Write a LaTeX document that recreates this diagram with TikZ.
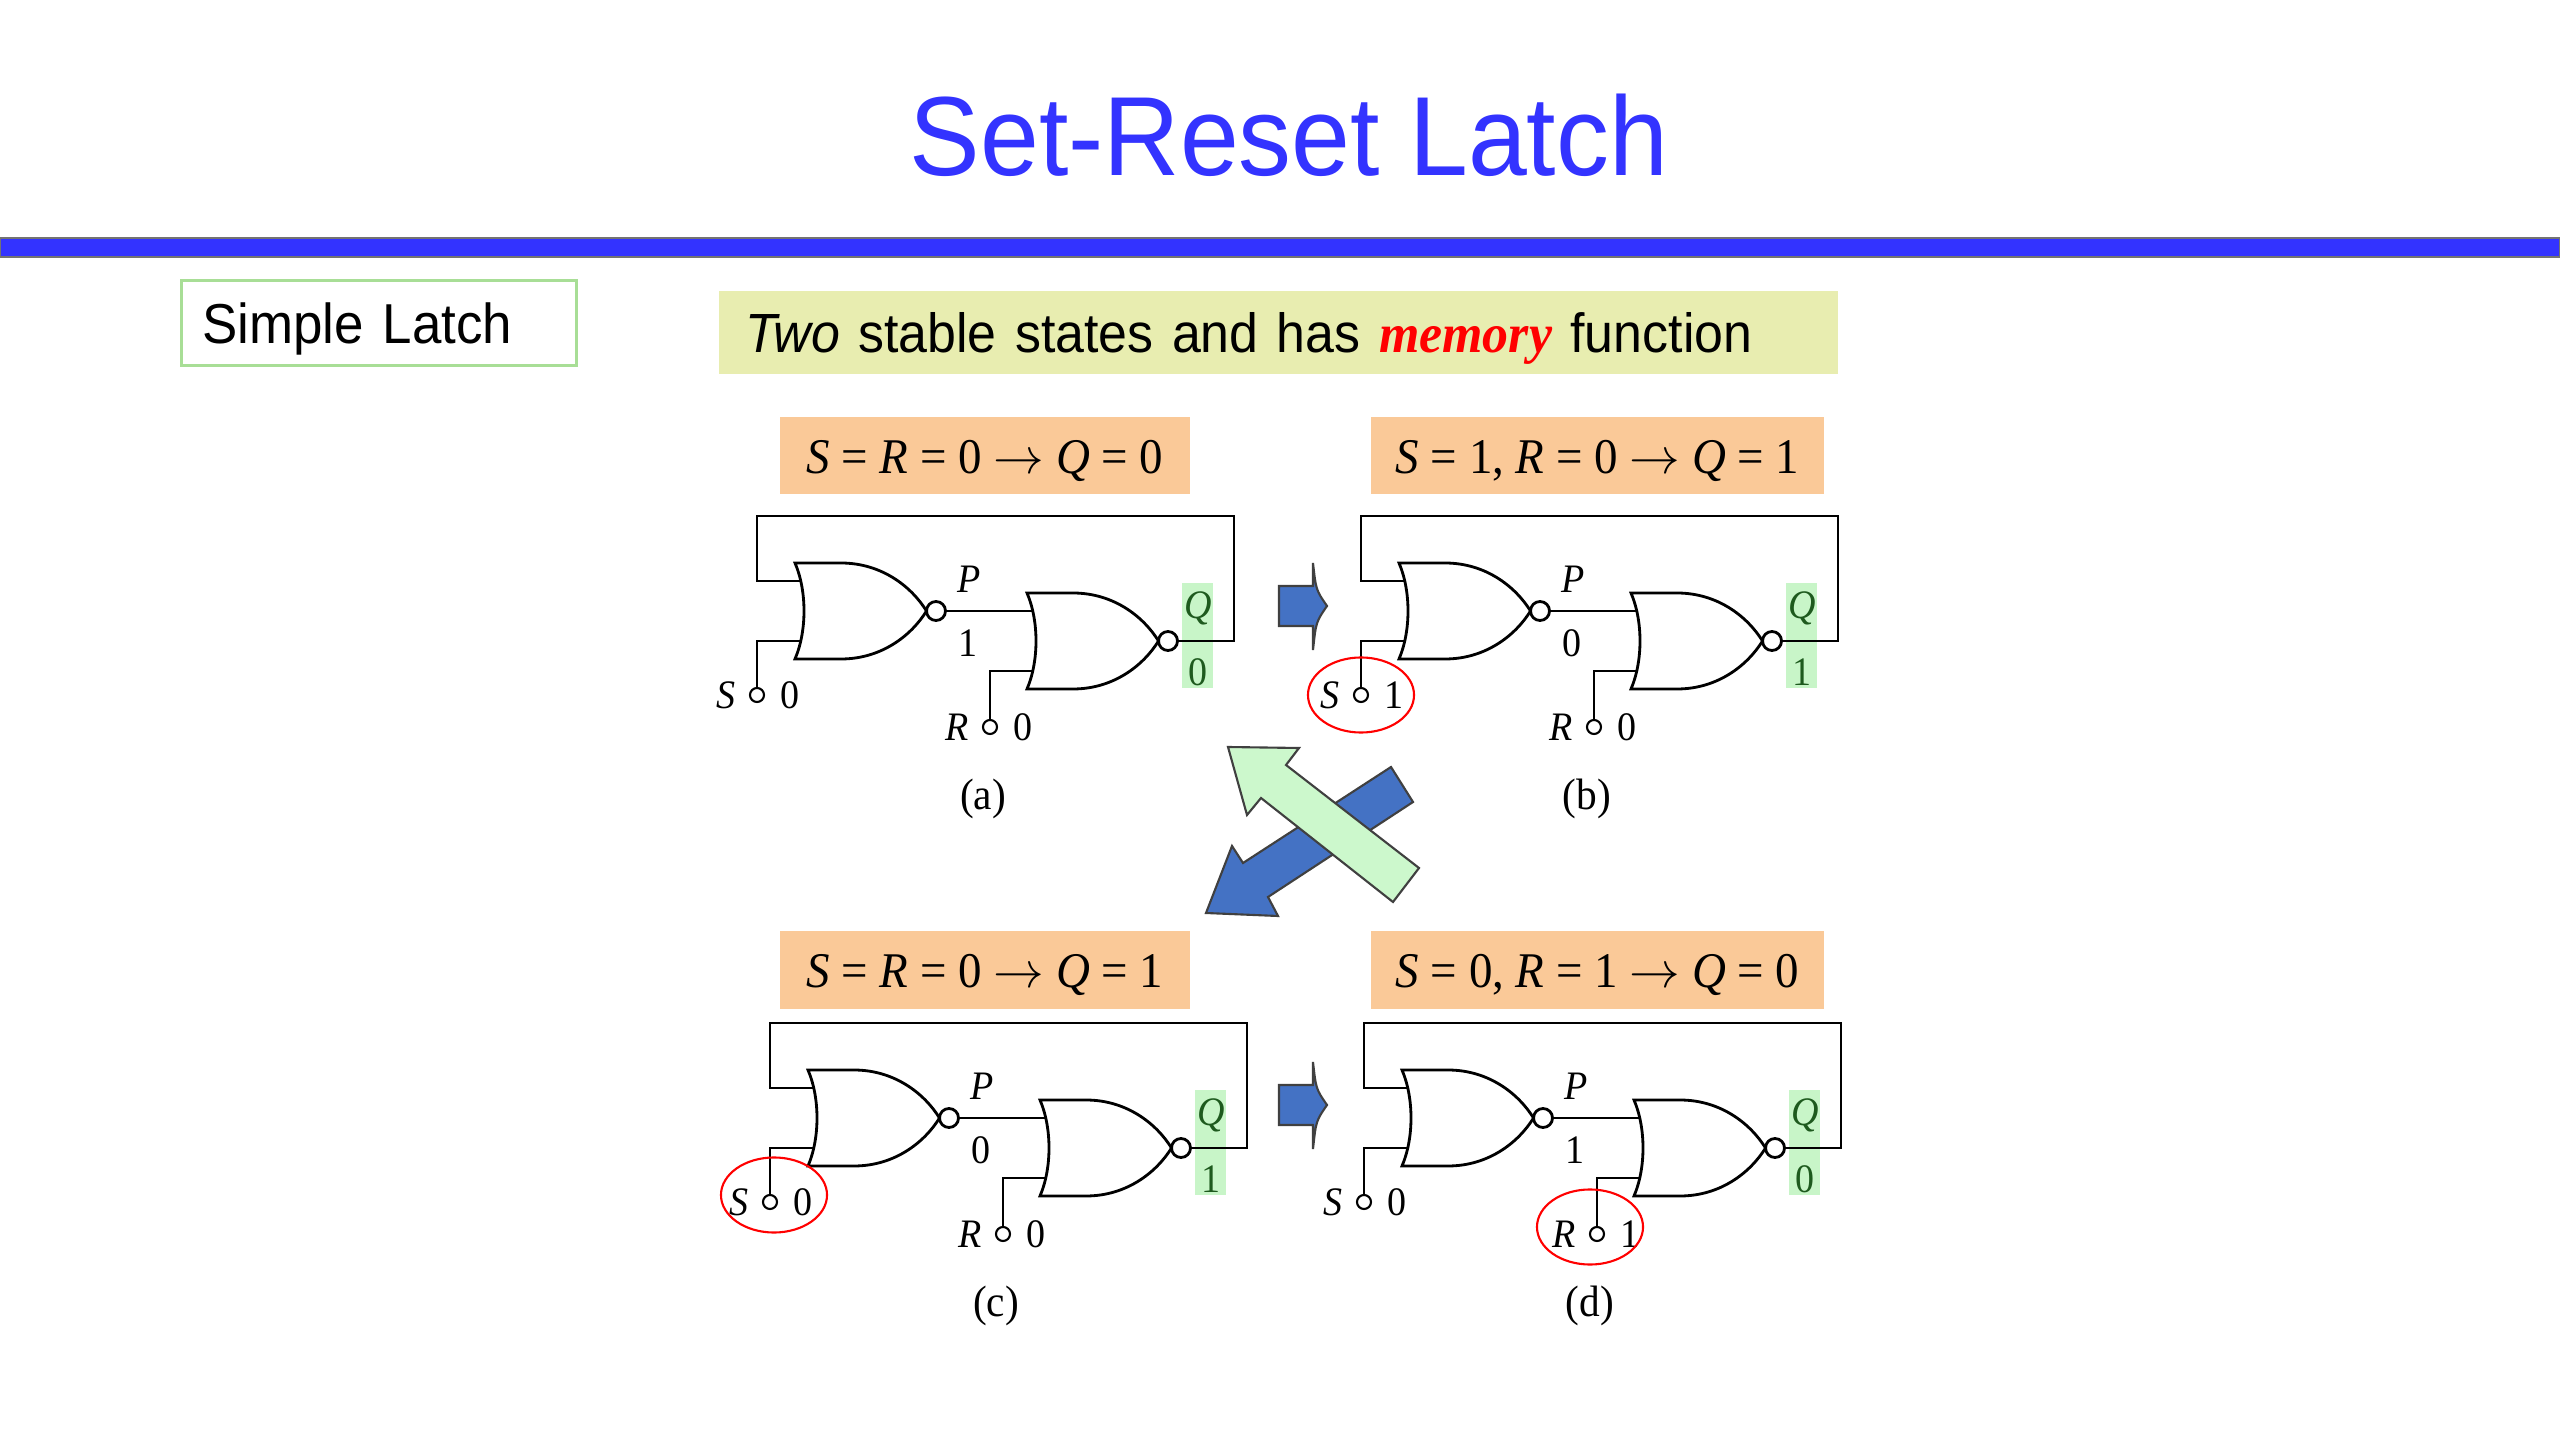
\documentclass[tikz,border=0pt]{standalone}
\usepackage{fontspec}
\setmainfont{Liberation Sans}[FakeStretch=0.94]
\newfontfamily\tmr{Liberation Serif}[FakeStretch=0.94]
\usepackage{xcolor}
\usetikzlibrary{positioning}
\usetikzlibrary{shapes.geometric}
\definecolor{titleblue}{RGB}{51,51,255}
\definecolor{boxorange}{RGB}{250,201,152}
\definecolor{boxyellow}{RGB}{232,237,176}
\definecolor{tagline}{RGB}{168,222,150}
\definecolor{qgreen}{RGB}{200,245,200}
\definecolor{qtext}{RGB}{30,90,30}
\definecolor{arrowblue}{RGB}{68,114,196}
\definecolor{arrowgreen}{RGB}{204,248,204}
\tikzset{
	norgate/.pic={
		\draw[line width=0.8pt] (-66,-48) -- (-20,-48) .. controls (20,-48) and (50,-25) .. (65.5,0) .. controls (50,25) and (20,48) .. (-20,48) -- (-66,48) .. controls (-54,20) and (-54,-20) .. (-66,-48) -- cycle;
		\draw[line width=0.8pt] (75,0) circle[radius=0.095cm];
		\coordinate (-in1) at (-60,-30);
		\coordinate (-in2) at (-60,30);
		\coordinate (-out) at (84.5,0);
	},
	terminal/.style={circle, draw, minimum size=0.14cm, inner sep=0pt, line width=0.6pt},
	wire/.style={line width=0.6pt},
	lbl/.style={font=\tmr\fontsize{11.5}{13}\selectfont, inner sep=0pt},
	caption/.style={font=\tmr\fontsize{12.5}{14}\selectfont, inner sep=0pt},
	formula/.style={fill=boxorange, minimum height=0.77cm, text height=0.35cm, text depth=0pt, font=\tmr\fontsize{14.2}{17}\selectfont},
	qmark/.style={fill=qgreen, minimum width=0.31cm, minimum height=1.05cm, inner sep=0pt},
	ring/.style={ellipse, draw=red, line width=0.6pt, minimum width=1.06cm, minimum height=0.75cm},
	bigarrow/.style={draw=black!75, line width=0.6pt}
}
\newcommand{\goes}{$\rightarrow$}
\begin{document}
\begin{tikzpicture}[x=0.01cm, y=-0.01cm]
	\useasboundingbox[fill=white] (0,0) rectangle (2560,1440);
	% heading
	\node[anchor=base, text=titleblue, font=\fontsize{32}{38}\selectfont, inner sep=0pt] (Title) at (1289,176) {Set-Reset Latch};
	\draw[fill=titleblue, draw=black!55, line width=0.5pt] (0,238) rectangle (2560,257);
	\node[draw=tagline, line width=0.8pt, anchor=north west, minimum width=3.95cm, minimum height=0.85cm, text width=3.53cm, inner xsep=0.21cm, text height=0.41cm, text depth=0pt, align=left, font=\fontsize{16}{19}\selectfont] (Tag) at (180,279) {Simple Latch};
	\node[fill=boxyellow, anchor=north west, minimum width=11.19cm, minimum height=0.83cm, text width=10.65cm, inner xsep=0.27cm, text height=0.41cm, text depth=0pt, align=left, font=\fontsize{15.7}{19}\selectfont] (Claim) at (718,290) {\textit{Two} stable states and has {\tmr\bfseries\itshape\color{red}memory} function};
	
	% state formulas
	\node[formula, minimum width=4.10cm] (Fa) at (985,455.5) {\textit{S} = \textit{R} = 0 \goes{} \textit{Q} = 0};
	\node[formula, minimum width=4.53cm] (Fb) at (1597.5,455.5) {\textit{S} = 1, \textit{R} = 0 \goes{} \textit{Q} = 1};
	\node[formula, minimum width=4.10cm] (Fc) at (985,970) {\textit{S} = \textit{R} = 0 \goes{} \textit{Q} = 1};
	\node[formula, minimum width=4.53cm] (Fd) at (1597.5,970) {\textit{S} = 0, \textit{R} = 1 \goes{} \textit{Q} = 0};
	
	% the four latches
	\foreach \n/\ox/\oy/\pv/\sv/\rv/\qv in {a/757/516/1/0/0/0, b/1361/516/0/1/0/1, c/770/1023/0/0/0/1, d/1364/1023/1/0/1/0}{
		\begin{scope}[shift={(\ox,\oy)}]
			\coordinate (L\n) at (0,0);
			\coordinate (T\n) at (477,0);
			\node[qmark] (H\n) at (440.5,119.5) {};
			\pic (A\n) at (104,95) {norgate};
			\pic (B\n) at (336,125) {norgate};
			\node[terminal] (S\n) at (0,179) {};
			\node[terminal] (R\n) at (233,211) {};
			\draw[wire] (A\n-out) -- (B\n-in1);
			\draw[wire] (B\n-out) -| (T\n) -- (L\n) |- (A\n-in1);
			\draw[wire] (S\n) |- (A\n-in2);
			\draw[wire] (R\n) |- (B\n-in2);
			\node[lbl] (P\n) at (212,63) {\textit{P}};
			\node[lbl] (Pv\n) at (211,127) {\pv};
			\node[lbl, left=0.13cm of S\n] (Sl\n) {\textit{S}};
			\node[lbl, right=0.15cm of S\n] (Sv\n) {\sv};
			\node[lbl, left=0.13cm of R\n] (Rl\n) {\textit{R}};
			\node[lbl, right=0.15cm of R\n] (Rv\n) {\rv};
			\node[lbl, text=qtext] (Q\n) at (441,92) {\textit{Q}};
			\node[lbl, text=qtext] (Qv\n) at (441,156) {\qv};
			\node[caption] (Cap\n) at (226,283) {(\n)};
		\end{scope}
	}
	
	% changed inputs
	\node[ring] (Ob) at (Sb) {};
	\node[ring] (Oc) at ([shift={(4,-7)}]Sc) {};
	\node[ring] (Od) at ([shift={(-7,-7)}]Rd) {};
	
	% transition arrows
	\foreach \ay in {606,1105}
		\draw[bigarrow, fill=arrowblue] (1279,\ay-20) -- (1313,\ay-20) -- (1313,\ay-43) .. controls (1316,\ay-16) .. (1327,\ay) .. controls (1316,\ay+16) .. (1313,\ay+44) -- (1313,\ay+20) -- (1279,\ay+20) -- cycle;
	\draw[bigarrow, fill=arrowblue] (1206,913) -- (1232,846) -- (1243,863) -- (1391,767) -- (1413,802) -- (1268,897) -- (1278,916) -- cycle;
	\draw[bigarrow, fill=arrowgreen] (1228,747) -- (1299,748) -- (1286,765) -- (1419,868) -- (1393,902) -- (1261,798) -- (1247,815) -- cycle;
\end{tikzpicture}
\end{document}
